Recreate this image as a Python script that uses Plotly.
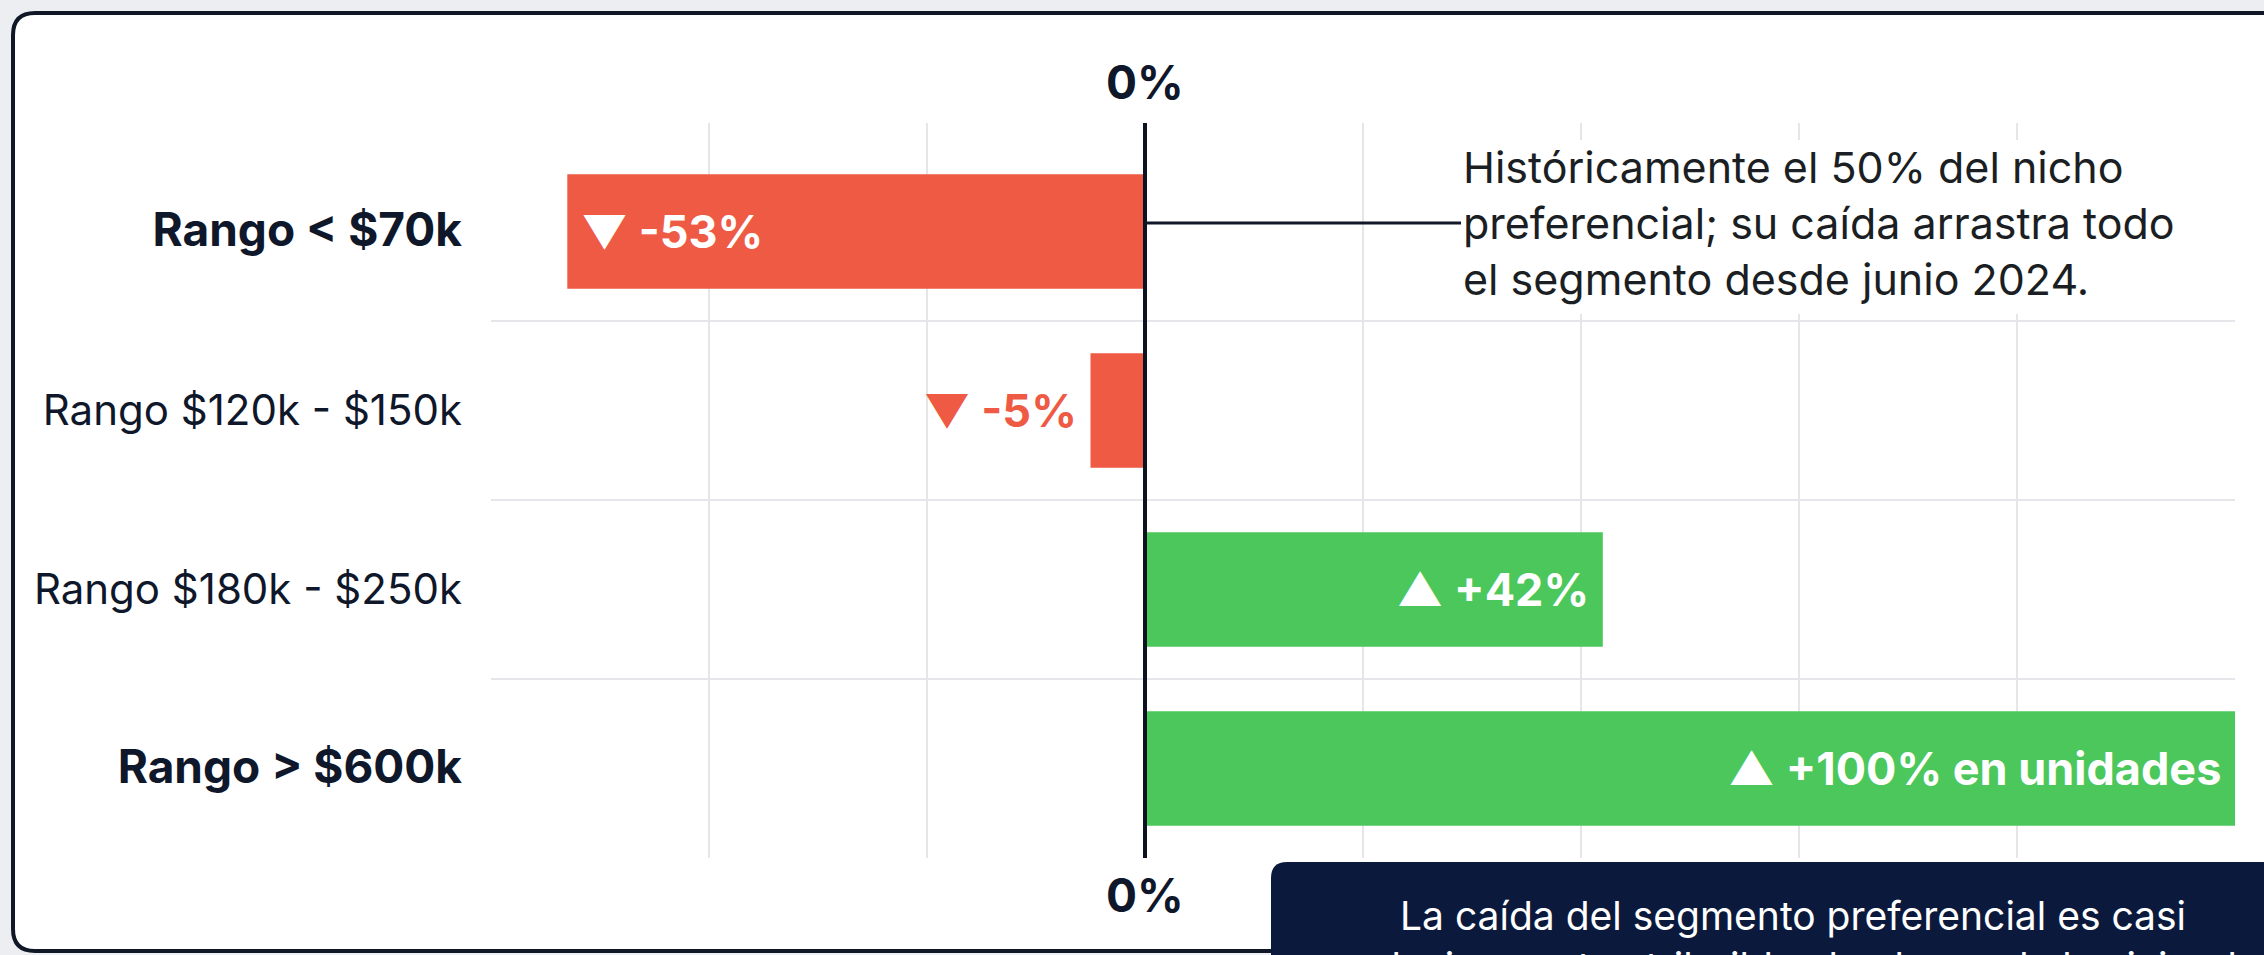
import plotly.graph_objects as go

# ---------------- data ----------------
categories = ["Rango < $70k", "Rango $120k - $150k", "Rango $180k - $250k", "Rango > $600k"]
changes = [-53, -5, 42, 100]
bar_labels = ["▼ -53%", "▼ -5%", "▲ +42%", "▲ +100% en unidades"]
label_positions = ["inside", "outside", "inside", "inside"]
emphasis = [True, False, False, True]
zero_label = "0%"
note_lines = [
    "Históricamente el 50% del nicho",
    "preferencial; su caída arrastra todo",
    "el segmento desde junio 2024.",
]
footer_lines = [
    "La caída del segmento preferencial es casi",
    "exclusivamente atribuible al colapso de la vivienda",
]

# ---------------- style ----------------
W, H = 2264, 955
ML, MR, MT, MB = 491, 29, 123, 97
PW, PH = W - ML - MR, H - MT - MB
RED, GREEN = "#EE5A44", "#4CC75B"
INK = "#0f172a"
GRID = "#e4e6ea"
FONT = "Inter"
NBSP = "\u00a0"


def px(x, y):
    """pixel (from top-left of figure) -> paper coords"""
    return (x - ML) / PW, (H - MB - y) / PH


def rrect(x0, y0, x1, y1, r):
    def P(x, y):
        a, b = px(x, y)
        return f"{a:.5f},{b:.5f}"
    return (f"M {P(x0 + r, y0)} L {P(x1 - r, y0)} Q {P(x1, y0)} {P(x1, y0 + r)} "
            f"L {P(x1, y1 - r)} Q {P(x1, y1)} {P(x1 - r, y1)} L {P(x0 + r, y1)} "
            f"Q {P(x0, y1)} {P(x0, y1 - r)} L {P(x0, y0 + r)} Q {P(x0, y0)} {P(x0 + r, y0)} Z")


colors = [RED if v < 0 else GREEN for v in changes]
texts = []
for v, lab, pos in zip(changes, bar_labels, label_positions):
    if pos == "inside":
        texts.append(NBSP + lab if v < 0 else lab + NBSP)
    else:
        texts.append(lab + NBSP if v < 0 else NBSP + lab)

ticktext = []
for c, e in zip(categories, emphasis):
    c = c.replace("<", "&lt;").replace(">", "&gt;")
    ticktext.append(f"<span style='font-size:46px'><b>{c}</b></span>" if e else c)

fig = go.Figure()
fig.add_trace(go.Bar(
    y=categories, x=changes, orientation="h",
    marker=dict(color=colors, line=dict(width=0)),
    width=0.64,
    text=texts, textposition=label_positions,
    insidetextanchor="end", textangle=0, constraintext="none", cliponaxis=False,
    textfont=dict(family=FONT, size=45, weight="bold"),
    insidetextfont=dict(family=FONT, size=45, weight="bold", color="#ffffff"),
    outsidetextfont=dict(family=FONT, size=45, weight="bold", color=RED),
    hoverinfo="skip", showlegend=False,
))
# helper trace so the row-separator axis is drawn
fig.add_trace(go.Scatter(x=[], y=[], yaxis="y2", mode="markers",
                         showlegend=False, hoverinfo="skip"))

yrange = [3.5, -0.606]
fig.update_layout(
    width=W, height=H,
    margin=dict(l=ML, r=MR, t=MT, b=MB, autoexpand=False),
    paper_bgcolor="#eceef1", plot_bgcolor="#ffffff",
    font=dict(family=FONT, color=INK),
    xaxis=dict(range=[-60, 100], tick0=0, dtick=20, showticklabels=False,
               showgrid=True, gridcolor=GRID, gridwidth=2,
               zeroline=True, zerolinecolor="#0b1220", zerolinewidth=4,
               showline=False, ticks="", fixedrange=True),
    yaxis=dict(type="category", range=yrange, tickvals=categories, ticktext=ticktext,
               tickfont=dict(family=FONT, size=42, color=INK),
               showgrid=False, zeroline=False, showline=False, ticks="",
               ticklabelstandoff=28, fixedrange=True),
    yaxis2=dict(overlaying="y", range=yrange, tickvals=[0.5, 1.5, 2.5],
                showticklabels=False, showgrid=True, gridcolor=GRID, gridwidth=2,
                zeroline=False, showline=False, ticks="", fixedrange=True),
)
try:
    fig.update_xaxes(zerolinelayer="above traces")
except Exception:
    pass

shapes = [
    # white card with dark rounded border
    dict(type="path", path=rrect(13, 13, 2320, 951, 22), xref="paper", yref="paper",
         fillcolor="#ffffff", line=dict(color="#101828", width=4), layer="below"),
    # white backing behind the note
    dict(type="rect", xref="paper", yref="paper",
         x0=px(1452, 0)[0], x1=px(2228, 0)[0], y0=px(0, 314)[1], y1=px(0, 140)[1],
         fillcolor="#ffffff", line=dict(width=0), layer="above"),
    # dark footer box
    dict(type="path", path=rrect(1271, 862, 2330, 1020, 16), xref="paper", yref="paper",
         fillcolor="#0b1a3c", line=dict(width=0), layer="above"),
]
fig.update_layout(shapes=shapes)

ann = []
# 0% labels
for yy in (82, 895):
    ann.append(dict(x=0, xref="x", y=px(0, yy)[1], yref="paper", text=f"<b>{zero_label}</b>",
                    showarrow=False, xanchor="center", yanchor="middle",
                    font=dict(family=FONT, size=46, color=INK)))
# note with connector line
ann.append(dict(x=0, xref="x", y=px(0, 223)[1], yref="paper",
                text="<br>".join(note_lines), align="left",
                xanchor="left", yanchor="middle",
                showarrow=True, ax=316, ay=0, arrowhead=0, arrowwidth=3,
                arrowcolor="#111827",
                font=dict(family=FONT, size=43, color="#1b1f24")))
# footer lines
for line, yy in zip(footer_lines, [915, 966]):
    ann.append(dict(x=px(1793, 0)[0], xref="paper", y=px(0, yy)[1], yref="paper",
                    text=line, showarrow=False, xanchor="center", yanchor="middle",
                    font=dict(family=FONT, size=39, color="#ffffff")))
fig.update_layout(annotations=ann)

fig.write_html("out.html",
               config={"displayModeBar": False},
               post_script="document.body.style.margin='0';document.body.style.overflow='hidden';")
